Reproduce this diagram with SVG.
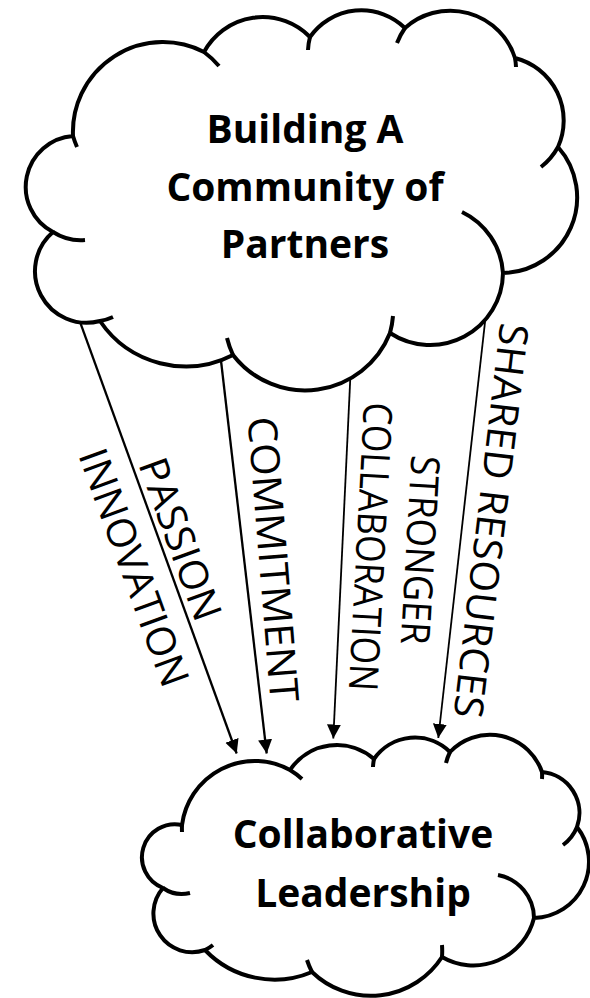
<svg xmlns="http://www.w3.org/2000/svg" width="590" height="998" viewBox="0 0 590 998">
  <defs>
    <style>
      .cloud { fill: #fff; stroke: #000; stroke-width: 4; stroke-linejoin: round; }
      .tick { fill: none; stroke: #000; stroke-width: 4; }
      .conn { stroke: #000; fill: none; marker-end: url(#ah); }
      .title { font-family: "Open Sans", "Liberation Sans", sans-serif; font-weight: 700; font-size: 39px; fill: #000; text-anchor: middle; }
      .lbl { font-family: "Open Sans", "Liberation Sans", sans-serif; font-weight: 400; font-size: 40px; fill: #000; text-anchor: middle; }
    </style>
    <marker id="ah" markerUnits="userSpaceOnUse" viewBox="0 0 14 15" refX="14" refY="7.5" markerWidth="14" markerHeight="15" orient="auto">
      <path d="M0,0.5 L14,7.5 L0,14.5 Z" fill="#000"/>
    </marker>
  </defs>
  <rect width="590" height="998" fill="#fff"/>

  <g id="connectors">
    <line class="conn" x1="78" y1="316.4" x2="236.7" y2="753.5" stroke-width="2.3"/>
    <line class="conn" x1="220.8" y1="359" x2="266.7" y2="753.5" stroke-width="2.3"/>
    <line class="conn" x1="350.3" y1="378" x2="333.3" y2="738.5" stroke-width="1.8"/>
    <line class="conn" x1="485.7" y1="316" x2="438.3" y2="738" stroke-width="1.8"/>
    <g id="labels">
      <text class="lbl" transform="translate(180.5,539) rotate(70)" x="0" y="14.3" textLength="170" lengthAdjust="spacingAndGlyphs">PASSION</text>
      <text class="lbl" transform="translate(134.2,567.3) rotate(70)" x="0" y="14.3" textLength="250" lengthAdjust="spacingAndGlyphs">INNOVATION</text>
      <text class="lbl" transform="translate(273.3,559.2) rotate(85.4)" x="0" y="14.3" textLength="286" lengthAdjust="spacingAndGlyphs">COMMITMENT</text>
      <text class="lbl" transform="translate(370.8,546.7) rotate(93)" x="0" y="14.3" textLength="289" lengthAdjust="spacingAndGlyphs">COLLABORATION</text>
      <text class="lbl" transform="translate(420.4,550) rotate(93.2)" x="0" y="14.3" textLength="189" lengthAdjust="spacingAndGlyphs">STRONGER</text>
      <text class="lbl" transform="translate(491.2,520.8) rotate(96.8)" x="0" y="14.3" textLength="397" lengthAdjust="spacingAndGlyphs">SHARED RESOURCES</text>
    </g>
  </g>

  <g id="node-community">
    <path class="cloud" d="M73,136 A90,90 0 0 1 204,52 A66.5,66.5 0 0 1 310,37 A62.7,62.7 0 0 1 405,28 A67.9,67.9 0 0 1 515,58 A64.5,64.5 0 0 1 558,147 A75.7,75.7 0 0 1 503,273 A72.9,72.9 0 0 1 390,333 A91.3,91.3 0 0 1 233,355 A103.6,103.6 0 0 1 100,321 A51.6,51.6 0 0 1 53,232 A51,51 0 0 1 73,136 Z"/>
    <path class="tick" d="M77,147 A90,90 0 0 1 73,136 M204,52 A90,90 0 0 1 219,66 M308,50 A62.7,62.7 0 0 1 310,37 M397,43 A67.9,67.9 0 0 1 405,28 M515,58 A67.9,67.9 0 0 1 516,67 M558,147 A64.5,64.5 0 0 1 541,167 M462,212 A72.5,72.5 0 0 1 503,273 M393,316 A91.3,91.3 0 0 1 390,333 M233,355 A91.3,91.3 0 0 1 227,338 M113,317 A51.6,51.6 0 0 1 100,321 M85,240 A51,51 0 0 1 53,232"/>
    <text class="title" x="305" y="143">Building A</text>
    <text class="title" x="305" y="200.5">Community of</text>
    <text class="title" x="305" y="258">Partners</text>
  </g>

  <g id="node-leadership">
    <path class="cloud" d="M182,825 A73.4,73.4 0 0 1 290,770 A56.5,56.5 0 0 1 374,759 A49.9,49.9 0 0 1 450,752 A55,55 0 0 1 542,772 A41.2,41.2 0 0 1 577,827 A56.3,56.3 0 0 1 534,918 A62.4,62.4 0 0 1 442,957 A84.6,84.6 0 0 1 312,972 A96.2,96.2 0 0 1 205,950 A38.7,38.7 0 0 1 163,888 A33,33 0 0 1 182,825 Z"/>
    <path class="tick" d="M182,832 A73.4,73.4 0 0 1 182,825 M290,770 A73.4,73.4 0 0 1 302,779 M373,767 A49.9,49.9 0 0 1 374,759 M446,763 A55,55 0 0 1 450,752 M542,772 A55,55 0 0 1 542,779 M577,827 A41.2,41.2 0 0 1 563,845 M498,875 A44.2,44.2 0 0 1 534,918 M442,945 A84.6,84.6 0 0 1 442,957 M312,972 A84.6,84.6 0 0 1 307,960 M213,945 A38.7,38.7 0 0 1 205,950 M190,893 A33,33 0 0 1 163,888"/>
    <text class="title" x="363" y="848">Collaborative</text>
    <text class="title" x="363" y="907">Leadership</text>
  </g>
</svg>
